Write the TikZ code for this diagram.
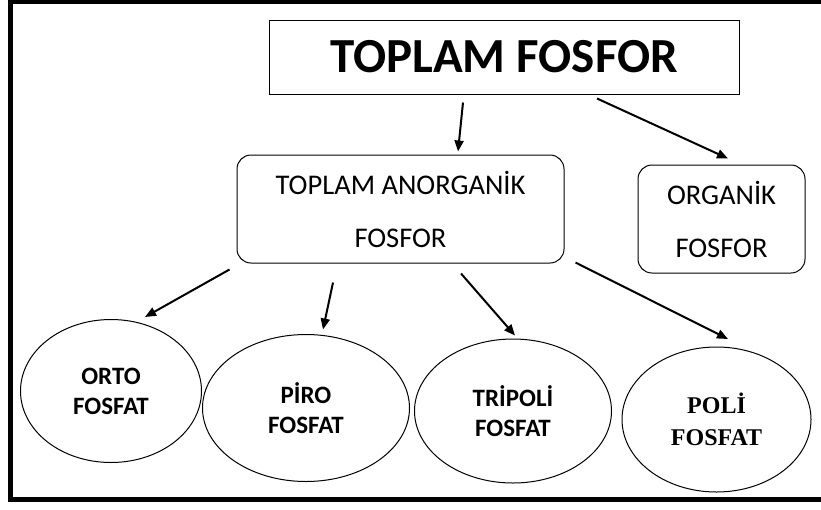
\documentclass[tikz,border=0pt]{standalone}
\usepackage{fontspec}
\setmainfont{Carlito}
\newfontfamily\timesfont{Liberation Serif}
\usetikzlibrary{shapes,arrows.meta}

\begin{document}
\begin{tikzpicture}[x=1pt,y=-1pt,>={Triangle[length=11pt,width=9pt]},semithick]
\tikzstyle{every node}=[draw=black,text=black,line width=1pt,align=center,inner sep=0pt]
\tikzstyle{kutu}=[rectangle,rounded corners=14pt,minimum height=108pt,font=\fontsize{28.5}{53}\selectfont]
\tikzstyle{fosfat}=[ellipse,font=\fontsize{25}{30}\selectfont\bfseries]
\tikzstyle{ok}=[->,line width=2pt]
\useasboundingbox (0,0) rectangle (821,509);
\clip (0,0) rectangle (821,509);
% frame
\draw[line width=4.5pt] (10.5,2.2) rectangle (830,499.5);
\node[rectangle,minimum width=470pt,minimum height=74pt,
      font=\fontsize{49}{50}\selectfont\bfseries] (top) at (504,57) {TOPLAM FOSFOR};
\node[kutu,minimum width=327pt] (anorg) at (400.5,209) {TOPLAM ANORGANİK\\FOSFOR};
\node[kutu,minimum width=167pt] (org) at (721.5,219) {ORGANİK\\FOSFOR};
\node[fosfat,minimum width=181pt,minimum height=143pt] (orto) at (111,391) {ORTO\\FOSFAT};
\node[fosfat,minimum width=207pt,minimum height=147pt] (piro) at (306,408) {PİRO\\FOSFAT};
\node[fosfat,minimum width=197pt,minimum height=144pt] (tripoli) at (513,411) {TRİPOLİ\\FOSFAT};
\node[fosfat,minimum width=189pt,minimum height=145pt,
      font=\fontsize{24}{32}\selectfont\timesfont\bfseries] (poli) at (716.5,419.5) {POLİ\\FOSFAT};
\path[ok] ([xshift=-41pt,yshift=-8pt]top.south) edge ([xshift=57.5pt,yshift=3pt]anorg.north)
          ([xshift=93pt,yshift=-4pt]top.south) edge ([xshift=6.5pt,yshift=6pt]org.north)
          ([xshift=-7pt,yshift=-6pt]anorg.south west) edge ([xshift=34pt,yshift=2pt]orto.north)
          ([xshift=-67.5pt,yshift=-19pt]anorg.south) edge ([xshift=17pt,yshift=4.5pt]piro.north)
          ([xshift=60.5pt,yshift=-10pt]anorg.south) edge ([xshift=2pt,yshift=3pt]tripoli.north)
          ([xshift=11pt,yshift=1pt]anorg.south east) edge ([xshift=11.5pt,yshift=7.5pt]poli.north);
\end{tikzpicture}
\end{document}
